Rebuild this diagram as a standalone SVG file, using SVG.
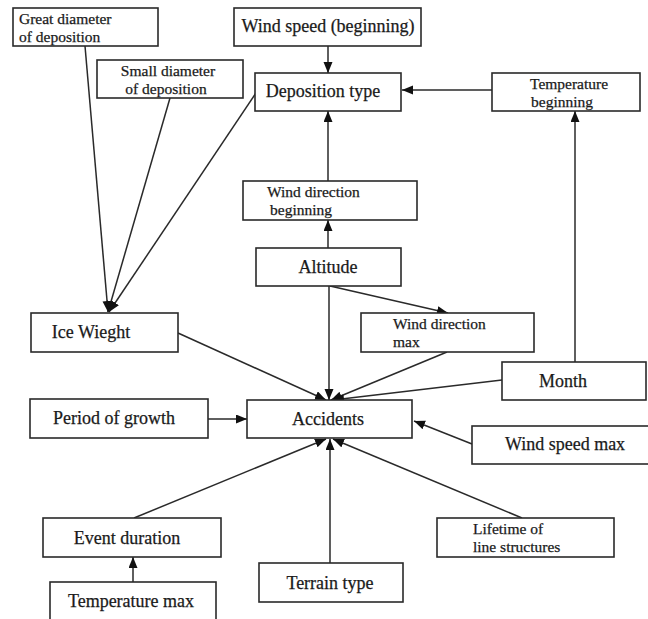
<svg xmlns="http://www.w3.org/2000/svg" width="648" height="619" viewBox="0 0 648 619">
<style>
.box{fill:#fff;stroke:#2a2a2a;stroke-width:1.6}
.t{font-family:"Liberation Serif","Times New Roman",serif;font-size:18px;fill:#1a1a1a;stroke:#1a1a1a;stroke-width:0.25}
.s{font-size:15.5px}
.m{text-anchor:middle}
.e{stroke:#2a2a2a;stroke-width:1.5;fill:none;marker-end:url(#ah)}
</style>
<defs>
<marker id="ah" markerUnits="userSpaceOnUse" markerWidth="12" markerHeight="10" refX="11" refY="4.5" orient="auto">
<path d="M0,0 L11,4.5 L0,9 z" fill="#111"/>
</marker>
</defs>
<rect width="648" height="619" fill="#fff"/>
<g id="connectors">
<line class="e" x1="85" y1="46" x2="108" y2="312"/>
<line class="e" x1="170" y1="98" x2="108" y2="312"/>
<line class="e" x1="256" y1="93" x2="109" y2="312"/>
<line class="e" x1="328" y1="46" x2="328" y2="73"/>
<line class="e" x1="492" y1="90" x2="402" y2="90"/>
<line class="e" x1="328" y1="181" x2="328" y2="111"/>
<line class="e" x1="328" y1="248" x2="328" y2="220"/>
<line class="e" x1="330" y1="286" x2="448" y2="313"/>
<line class="e" x1="329" y1="286" x2="329" y2="400"/>
<line class="e" x1="575" y1="362" x2="575" y2="111"/>
<line class="e" x1="178" y1="333" x2="326" y2="400"/>
<line class="e" x1="447" y1="352" x2="331" y2="400"/>
<line class="e" x1="502" y1="380" x2="333" y2="400"/>
<line class="e" x1="208" y1="419" x2="247" y2="419"/>
<line class="e" x1="472" y1="444" x2="414" y2="421"/>
<line class="e" x1="134" y1="518" x2="326" y2="439"/>
<line class="e" x1="330" y1="563" x2="330" y2="439"/>
<line class="e" x1="522" y1="518" x2="333" y2="439"/>
<line class="e" x1="133" y1="582" x2="133" y2="557"/>
</g>
<g id="great-diameter"><rect class="box" x="13" y="8" width="145" height="38"/><text class="t s" x="19" y="24">Great diameter</text><text class="t s" x="19" y="41.5">of deposition</text></g>
<g id="wind-speed-beginning"><rect class="box" x="234" y="8" width="187" height="38"/><text class="t m" x="328" y="32">Wind speed (beginning)</text></g>
<g id="small-diameter"><rect class="box" x="97" y="60" width="146" height="38"/><text class="t s m" x="168" y="76">Small diameter</text><text class="t s m" x="166" y="93.5">of deposition</text></g>
<g id="deposition-type"><rect class="box" x="255" y="73" width="146" height="38"/><text class="t m" x="323" y="97">Deposition type</text></g>
<g id="temperature-beginning"><rect class="box" x="492" y="73" width="148" height="38"/><text class="t s" x="530" y="89">Temperature</text><text class="t s" x="531" y="106.5">beginning</text></g>
<g id="wind-direction-beginning"><rect class="box" x="243" y="181" width="174" height="39"/><text class="t s" x="267" y="197">Wind direction</text><text class="t s" x="270" y="214.5">beginning</text></g>
<g id="altitude"><rect class="box" x="256" y="248" width="145" height="38"/><text class="t m" x="328" y="273">Altitude</text></g>
<g id="ice-weight"><rect class="box" x="31" y="313" width="147" height="39"/><text class="t m" x="91" y="338">Ice Wieght</text></g>
<g id="wind-direction-max"><rect class="box" x="361" y="313" width="173" height="39"/><text class="t s" x="393" y="329">Wind direction</text><text class="t s" x="393" y="346.5">max</text></g>
<g id="month"><rect class="box" x="502" y="362" width="144" height="38"/><text class="t m" x="563" y="387">Month</text></g>
<g id="period-of-growth"><rect class="box" x="30" y="399" width="178" height="39"/><text class="t m" x="114" y="424">Period of growth</text></g>
<g id="accidents"><rect class="box" x="247" y="400" width="165" height="38"/><text class="t m" x="328" y="425">Accidents</text></g>
<g id="wind-speed-max"><rect class="box" x="472" y="426" width="180" height="38"/><text class="t m" x="565" y="450">Wind speed max</text></g>
<g id="event-duration"><rect class="box" x="43" y="518" width="178" height="39"/><text class="t m" x="127" y="544">Event duration</text></g>
<g id="lifetime"><rect class="box" x="437" y="518" width="177" height="39"/><text class="t s" x="473" y="534">Lifetime of</text><text class="t s" x="473" y="551.5">line structures</text></g>
<g id="terrain-type"><rect class="box" x="259" y="563" width="144" height="39"/><text class="t m" x="330" y="589">Terrain type</text></g>
<g id="temperature-max"><rect class="box" x="50" y="582" width="166" height="45"/><text class="t m" x="131" y="607">Temperature max</text></g>
</svg>
